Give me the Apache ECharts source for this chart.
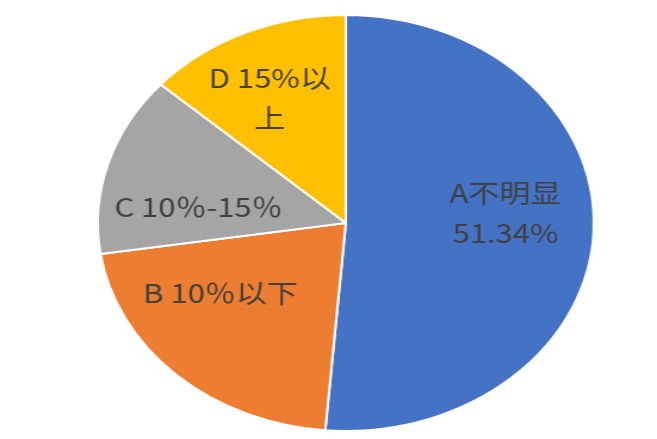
<!DOCTYPE html>
<html>
<head>
<meta charset="utf-8">
<script src="https://cdn.jsdelivr.net/npm/echarts@6/dist/echarts.min.js"></script>
<style>
html,body{margin:0;padding:0;background:#fff;overflow:hidden;width:657px;height:439px;}
#chart{width:551px;height:439px;transform:scaleX(1.1924);transform-origin:0 0;}
</style>
</head>
<body>
<div id="chart"></div>
<script>
// Data
var categories = ['A不明显', 'B 10％以下', 'C 10％-15％', 'D 15%以上'];
var values = [51.34, 21.3, 14.0, 13.4];
var labelTexts = ['A不明显\n{value}%', 'B 10％以下', 'C 10％-15％', 'D 15%以\n上'];

// Styles
var colors = ['#4472C4', '#ED7D31', '#A5A5A5', '#FFC000'];
var labelOffsets = [[27, -14], [-32, -8], [-21, 15], [-20, -27]];

var chart = echarts.init(document.getElementById('chart'), null, {renderer: 'canvas'});
var seriesData = categories.map(function (c, i) {
  return {
    name: c,
    value: values[i],
    itemStyle: {color: colors[i]},
    label: {
      offset: labelOffsets[i],
      formatter: labelTexts[i].replace('{value}', values[i].toFixed(2))
    }
  };
});
chart.setOption({
  animation: false,
  series: [{
    type: 'pie',
    center: [290, 223],
    radius: [0, 208],
    startAngle: 90,
    clockwise: true,
    avoidLabelOverlap: false,
    itemStyle: {borderColor: '#ffffff', borderWidth: 2},
    label: {
      show: true,
      position: 'inside',
      color: '#404040',
      fontSize: 26,
      lineHeight: 40,
      fontFamily: '"Noto Sans CJK SC", "Noto Sans", sans-serif',
      align: 'center'
    },
    labelLine: {show: false},
    emphasis: {disabled: true},
    data: seriesData
  }]
});
</script>
</body>
</html>
